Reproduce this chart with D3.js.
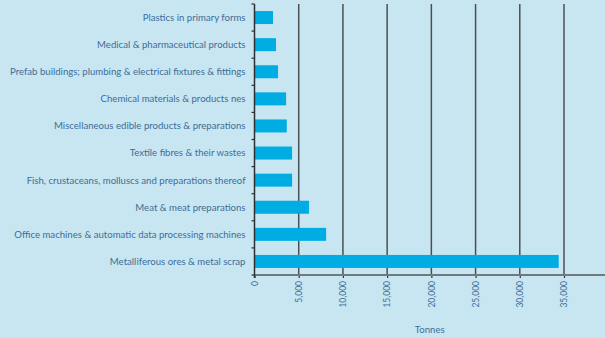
<!DOCTYPE html>
<html>
<head>
<meta charset="utf-8">
<script src="https://cdn.jsdelivr.net/npm/d3@7"></script>
<style>
  body { margin: 0; background: #c8e6f2; }
  svg { display: block; }
</style>
</head>
<body>
<div id="chart"></div>
<script>
const categories = [
  'Plastics in primary forms',
  'Medical & pharmaceutical products',
  'Prefab buildings; plumbing & electrical fixtures & fittings',
  'Chemical materials & products nes',
  'Miscellaneous edible products & preparations',
  'Textile fibres & their wastes',
  'Fish, crustaceans, molluscs and preparations thereof',
  'Meat & meat preparations',
  'Office machines & automatic data processing machines',
  'Metalliferous ores & metal scrap'
];
const tonnes = [2100, 2430, 2660, 3570, 3650, 4250, 4250, 6170, 8100, 34400];
const xTicks = [0, 5000, 10000, 15000, 20000, 25000, 30000, 35000];

const width = 605, height = 338;
const margin = { top: 4, right: 41, bottom: 63, left: 254.5 };
const innerWidth = width - margin.left - margin.right;
const innerHeight = height - margin.top - margin.bottom;

const textColor = '#3d6d97';
const font = 'Lato, "Open Sans", sans-serif';

const svg = d3.select('#chart').append('svg')
  .attr('width', width)
  .attr('height', height);

svg.append('rect').attr('width', width).attr('height', height).attr('fill', '#c8e6f2');

const g = svg.append('g').attr('transform', `translate(${margin.left},${margin.top})`);

const x = d3.scaleLinear().domain([0, 35000]).range([0, innerWidth]);
const y = d3.scaleBand().domain(categories).range([0, innerHeight]).paddingInner(0.52).paddingOuter(0.26);

// grid lines
g.append('g')
  .selectAll('line')
  .data(xTicks.slice(1))
  .join('line')
  .attr('x1', d => x(d))
  .attr('x2', d => x(d))
  .attr('y1', 0)
  .attr('y2', innerHeight)
  .attr('stroke', '#4a4f52')
  .attr('stroke-width', 1.5);

// bars
g.selectAll('rect.bar')
  .data(categories)
  .join('rect')
  .attr('class', 'bar')
  .attr('x', 0)
  .attr('y', d => y(d))
  .attr('width', (d, i) => x(tonnes[i]))
  .attr('height', y.bandwidth())
  .attr('fill', '#00ade2');

// x axis
const xAxis = g.append('g')
  .attr('transform', `translate(0,${innerHeight})`)
  .call(d3.axisBottom(x).tickValues(xTicks).tickFormat(d3.format(',')).tickSize(3).tickSizeOuter(0));
xAxis.select('.domain').remove();
xAxis.selectAll('.tick line').attr('stroke', '#333').attr('stroke-width', 1.2);
xAxis.selectAll('.tick text')
  .attr('transform', 'rotate(-90)')
  .attr('text-anchor', 'end')
  .attr('x', -6)
  .attr('y', 0)
  .attr('dy', '0.32em')
  .attr('fill', textColor)
  .style('font-family', font)
  .style('font-size', '8.5px');

g.append('line')
  .attr('x1', 0)
  .attr('x2', width - margin.left)
  .attr('y1', innerHeight)
  .attr('y2', innerHeight)
  .attr('stroke', '#6f7a80')
  .attr('stroke-width', 2);

// y axis with ticks at band boundaries
g.append('line')
  .attr('x1', 0).attr('x2', 0)
  .attr('y1', 0).attr('y2', innerHeight + 3)
  .attr('stroke', '#2c3033')
  .attr('stroke-width', 1.5);
g.append('g')
  .selectAll('line')
  .data(d3.range(categories.length + 1))
  .join('line')
  .attr('x1', -3)
  .attr('x2', 0)
  .attr('y1', i => i * innerHeight / categories.length)
  .attr('y2', i => i * innerHeight / categories.length)
  .attr('stroke', '#2c3033')
  .attr('stroke-width', 1.2);

g.append('g')
  .selectAll('text')
  .data(categories)
  .join('text')
  .attr('x', -9)
  .attr('y', d => y(d) + y.bandwidth() / 2)
  .attr('dy', '0.35em')
  .attr('text-anchor', 'end')
  .attr('fill', textColor)
  .style('font-family', font)
  .style('font-size', '9.6px')
  .text(d => d);

svg.append('text')
  .attr('x', (margin.left + width) / 2)
  .attr('y', 333)
  .attr('text-anchor', 'middle')
  .attr('fill', textColor)
  .style('font-family', font)
  .style('font-size', '9.6px')
  .text('Tonnes');
</script>
</body>
</html>
